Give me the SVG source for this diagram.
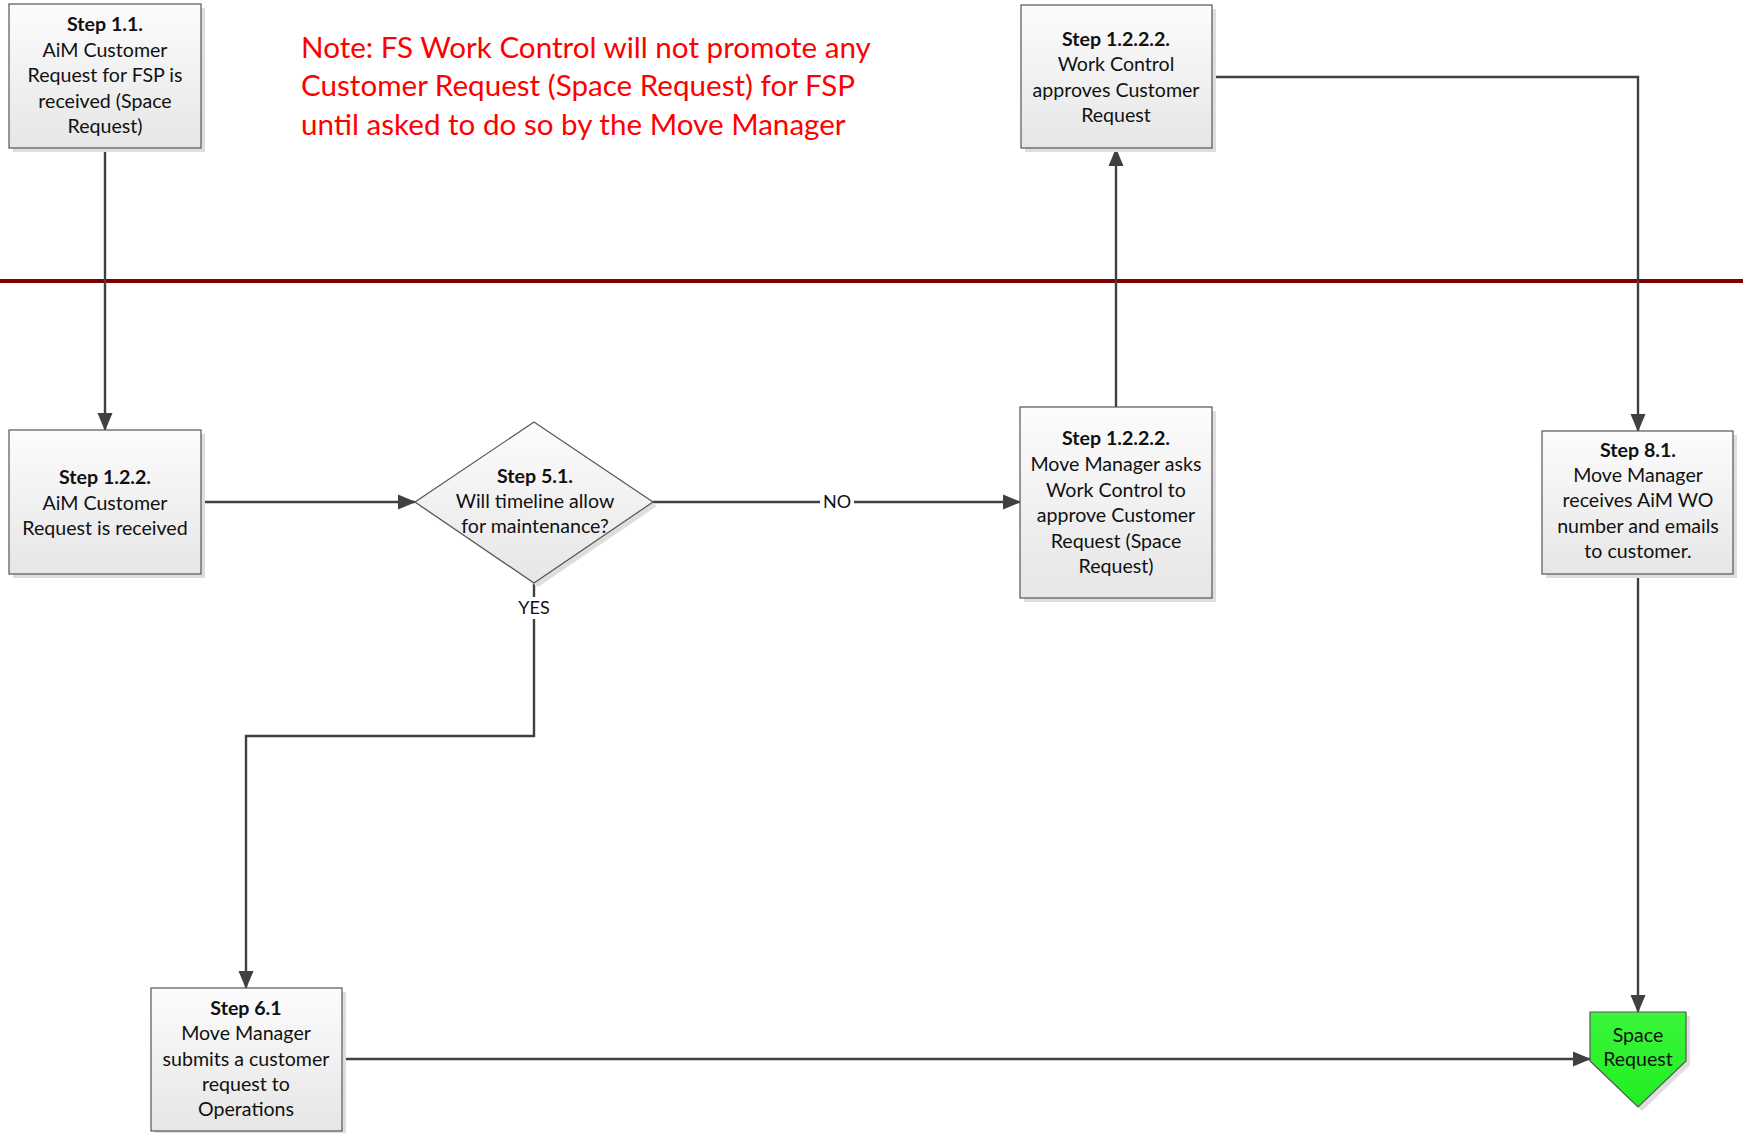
<svg xmlns="http://www.w3.org/2000/svg" width="1743" height="1133" viewBox="0 0 1743 1133">
<defs>
<linearGradient id="gbox" x1="0" y1="0" x2="0" y2="1">
<stop offset="0" stop-color="#fcfcfc"/>
<stop offset="1" stop-color="#e6e6e6"/>
</linearGradient>
<linearGradient id="ggreen" x1="0" y1="0" x2="0" y2="1">
<stop offset="0" stop-color="#3af53a"/>
<stop offset="1" stop-color="#22ee22"/>
</linearGradient>
<marker id="arr" markerUnits="userSpaceOnUse" markerWidth="18" markerHeight="18" viewBox="0 0 18 18" refX="17" refY="9" orient="auto">
<path d="M0,1.5 L18,9 L0,16.5 z" fill="#404040"/>
</marker>
</defs>
<style>
.box{fill:url(#gbox);stroke:#555;stroke-width:1.2}
.shadow{fill:#dedede}
.t{font-family:Lato,"Liberation Sans",sans-serif;font-size:19.6px;fill:#111;text-anchor:middle}
.b{font-weight:bold}
.c{fill:none;stroke:#404040;stroke-width:2.4}
.lbl{font-family:Lato,"Liberation Sans",sans-serif;font-size:18px;fill:#111;text-anchor:middle}
.note{font-family:Lato,"Liberation Sans",sans-serif;font-size:29.6px;fill:#f00}
</style>
<rect width="1743" height="1133" fill="#fff"/>
<line x1="0" y1="281" x2="1743" y2="281" stroke="#800000" stroke-width="4"/>
<text class="note" x="301" y="58">Note: FS Work Control will not promote any</text>
<text class="note" x="301" y="96">Customer Request (Space Request) for FSP</text>
<text class="note" x="301" y="135">until asked to do so by the Move Manager</text>

<g id="connectors">
<path class="c" d="M105,148 V430" marker-end="url(#arr)"/>
<path class="c" d="M201,502 H415" marker-end="url(#arr)"/>
<path class="c" d="M653,502 H1020" marker-end="url(#arr)"/>
<path class="c" d="M534,583 V736 H246 V988" marker-end="url(#arr)"/>
<path class="c" d="M1116,407 V149" marker-end="url(#arr)"/>
<path class="c" d="M1212,77 H1638 V431" marker-end="url(#arr)"/>
<path class="c" d="M1638,574 V1012" marker-end="url(#arr)"/>
<path class="c" d="M342,1059 H1590" marker-end="url(#arr)"/>
<rect x="820" y="491" width="34" height="22" fill="#fff"/>
<text class="lbl" x="837" y="508">NO</text>
<rect x="515" y="597" width="38" height="22" fill="#fff"/>
<text class="lbl" x="534" y="614">YES</text>
</g>

<g id="step1-1">
<rect class="shadow" x="13" y="8" width="192" height="144"/>
<rect class="box" x="9" y="4" width="192" height="144"/>
<text class="t" x="105"><tspan class="b" x="105" y="31">Step 1.1.</tspan><tspan x="105" y="57">AiM Customer</tspan><tspan x="105" y="82">Request for FSP is</tspan><tspan x="105" y="108">received (Space</tspan><tspan x="105" y="133">Request)</tspan></text>
</g>

<g id="step1-2-2-2-wc">
<rect class="shadow" x="1025" y="9" width="191" height="143"/>
<rect class="box" x="1021" y="5" width="191" height="143"/>
<text class="t"><tspan class="b" x="1116" y="46">Step 1.2.2.2.</tspan><tspan x="1116" y="71">Work Control</tspan><tspan x="1116" y="97">approves Customer</tspan><tspan x="1116" y="122">Request</tspan></text>
</g>

<g id="step1-2-2">
<rect class="shadow" x="13" y="434" width="192" height="144"/>
<rect class="box" x="9" y="430" width="192" height="144"/>
<text class="t"><tspan class="b" x="105" y="484">Step 1.2.2.</tspan><tspan x="105" y="510">AiM Customer</tspan><tspan x="105" y="535">Request is received</tspan></text>
</g>

<g id="step5-1">
<polygon points="538,426 657,506 538,587 419,506" fill="#dedede"/>
<polygon points="534,422 653,502 534,583 415,502" fill="url(#gbox)" stroke="#555" stroke-width="1.2"/>
<text class="t"><tspan class="b" x="535" y="483">Step 5.1.</tspan><tspan x="535" y="508">Will timeline allow</tspan><tspan x="535" y="533">for maintenance?</tspan></text>
</g>

<g id="step1-2-2-2-mm">
<rect class="shadow" x="1024" y="411" width="192" height="191"/>
<rect class="box" x="1020" y="407" width="192" height="191"/>
<text class="t"><tspan class="b" x="1116" y="445">Step 1.2.2.2.</tspan><tspan x="1116" y="471">Move Manager asks</tspan><tspan x="1116" y="497">Work Control to</tspan><tspan x="1116" y="522">approve Customer</tspan><tspan x="1116" y="548">Request (Space</tspan><tspan x="1116" y="573">Request)</tspan></text>
</g>

<g id="step8-1">
<rect class="shadow" x="1546" y="435" width="191" height="143"/>
<rect class="box" x="1542" y="431" width="191" height="143"/>
<text class="t"><tspan class="b" x="1638" y="457">Step 8.1.</tspan><tspan x="1638" y="482">Move Manager</tspan><tspan x="1638" y="507">receives AiM WO</tspan><tspan x="1638" y="533">number and emails</tspan><tspan x="1638" y="558">to customer.</tspan></text>
</g>

<g id="step6-1">
<rect class="shadow" x="155" y="992" width="191" height="143"/>
<rect class="box" x="151" y="988" width="191" height="143"/>
<text class="t"><tspan class="b" x="246" y="1015">Step 6.1</tspan><tspan x="246" y="1040">Move Manager</tspan><tspan x="246" y="1066">submits a customer</tspan><tspan x="246" y="1091">request to</tspan><tspan x="246" y="1116">Operations</tspan></text>
</g>

<g id="space-request">
<polygon points="1594,1016 1690,1016 1690,1065 1642,1111 1594,1065" fill="#dedede"/>
<polygon points="1590,1012 1686,1012 1686,1061 1638,1107 1590,1061" fill="url(#ggreen)" stroke="#555" stroke-width="1.2"/>
<text class="t"><tspan x="1638" y="1042">Space</tspan><tspan x="1638" y="1066">Request</tspan></text>
</g>
</svg>
